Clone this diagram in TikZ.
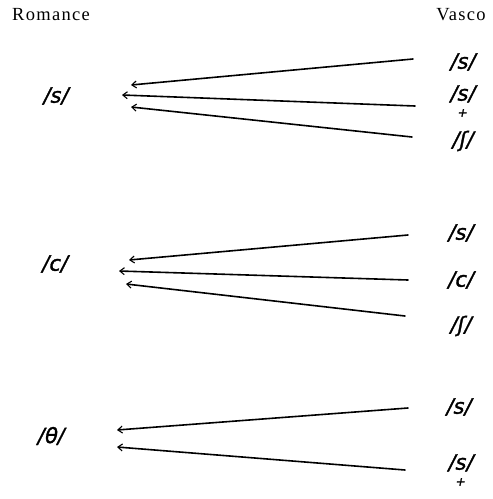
\documentclass[tikz,border=0pt]{standalone}
\usepackage{fontspec}
\setmainfont{Liberation Serif}
\newfontfamily\handfont{DejaVu Sans}[FakeSlant=0.2,FakeBold=1.5]
\newfontfamily\headfont{Liberation Serif}[LetterSpace=7]
\usetikzlibrary{arrows.meta}
\newcommand{\splus}{{\ooalign{s\cr\hidewidth\raisebox{-1.4ex}{\fontsize{12}{12}\selectfont +}\hidewidth\cr}}}
\begin{document}
\begin{tikzpicture}[x=1pt,y=-1pt,
  head/.style={font=\headfont\fontsize{18.5}{19}\selectfont, inner sep=0pt},
  phon/.style={font=\handfont\fontsize{21}{21}\selectfont, inner sep=0pt},
  conn/.style={line width=1.6pt, line cap=round, -{Straight Barb[length=4.5pt,width=7pt,line width=1.1pt]}}]
\useasboundingbox (0,0) rectangle (493,499);
% headers
\node[head] (romance) at (51,15) {Romance};
\node[head] (vasco) at (461,15) {Vasco};
% left phonemes
\node[phon] (L1) at (55,96) {/s/};
\node[phon] (L2) at (54,264) {/c/};
\node[phon] (L3) at (50,436) {/θ/};
% right phonemes
\node[phon] (R1a) at (462,62) {/s/};
\node[phon] (R1b) at (462,101) {/\splus/};
\node[phon] (R1c) at (462,141) {/ʃ/};
\node[phon] (R2a) at (460,233) {/s/};
\node[phon] (R2b) at (460,280) {/c/};
\node[phon] (R2c) at (460,326) {/ʃ/};
\node[phon] (R3a) at (458,407) {/s/};
\node[phon] (R3b) at (460,470) {/\splus/};
% arrow endpoints
\coordinate (s1a) at (413,59);  \coordinate (e1a) at (131,85);
\coordinate (s1b) at (415,106); \coordinate (e1b) at (122,95);
\coordinate (s1c) at (412,137); \coordinate (e1c) at (131,107);
\coordinate (s2a) at (408,235); \coordinate (e2a) at (129,260);
\coordinate (s2b) at (408,280); \coordinate (e2b) at (119,271);
\coordinate (s2c) at (405,316); \coordinate (e2c) at (126,284);
\coordinate (s3a) at (408,408); \coordinate (e3a) at (117,430);
\coordinate (s3b) at (405,470); \coordinate (e3b) at (117,447);
% connectors
\draw[conn] (s1a) -- (e1a);
\draw[conn] (s1b) -- (e1b);
\draw[conn] (s1c) -- (e1c);
\draw[conn] (s2a) -- (e2a);
\draw[conn] (s2b) -- (e2b);
\draw[conn] (s2c) -- (e2c);
\draw[conn] (s3a) -- (e3a);
\draw[conn] (s3b) -- (e3b);
\end{tikzpicture}
\end{document}
